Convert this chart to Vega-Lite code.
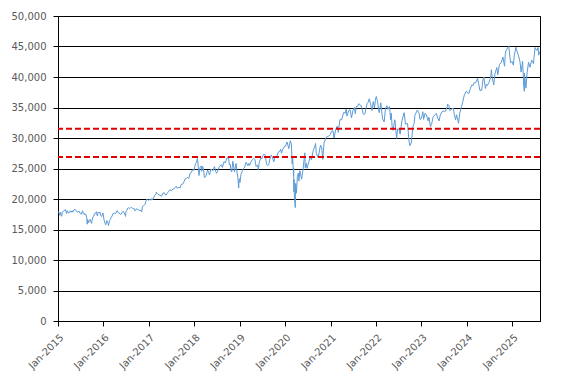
{
  "$schema": "https://vega.github.io/schema/vega-lite/v6.json",
  "width": 482,
  "height": 305,
  "autosize": {"type": "none"},
  "padding": {"left": 58, "top": 16, "right": 28, "bottom": 64},
  "config": {
    "view": {"stroke": "#000000", "strokeWidth": 1},
    "axis": {
      "labelFont": "DejaVu Sans",
      "labelFontSize": 10,
      "labelColor": "#595959",
      "domainColor": "#000000",
      "tickColor": "#000000",
      "gridColor": "#000000",
      "gridOpacity": 1,
      "gridWidth": 1,
      "tickSize": 5,
      "title": null
    }
  },
  "datasets": {
    "djia": [
      {"d":"2015-01-02","v":17833},{"d":"2015-01-08","v":17907},{"d":"2015-01-15","v":17320},{"d":"2015-01-22","v":17814},{"d":"2015-01-30","v":17165},
      {"d":"2015-02-06","v":17824},{"d":"2015-02-13","v":18019},{"d":"2015-02-20","v":18140},{"d":"2015-02-27","v":18133},
      {"d":"2015-03-02","v":18288},{"d":"2015-03-11","v":17635},{"d":"2015-03-18","v":18076},{"d":"2015-03-26","v":17678},
      {"d":"2015-04-02","v":17763},{"d":"2015-04-10","v":18057},{"d":"2015-04-17","v":17826},{"d":"2015-04-24","v":18080},{"d":"2015-04-30","v":17841},
      {"d":"2015-05-08","v":18191},{"d":"2015-05-19","v":18312},{"d":"2015-05-29","v":18011},
      {"d":"2015-06-05","v":17849},{"d":"2015-06-12","v":17899},{"d":"2015-06-19","v":18015},{"d":"2015-06-29","v":17597},
      {"d":"2015-07-08","v":17515},{"d":"2015-07-17","v":18086},{"d":"2015-07-24","v":17568},{"d":"2015-07-31","v":17690},
      {"d":"2015-08-07","v":17373},{"d":"2015-08-14","v":17477},{"d":"2015-08-20","v":16990},{"d":"2015-08-24","v":15871},{"d":"2015-08-28","v":16643},
      {"d":"2015-09-04","v":16102},{"d":"2015-09-11","v":16433},{"d":"2015-09-17","v":16674},{"d":"2015-09-28","v":16001},
      {"d":"2015-10-02","v":16472},{"d":"2015-10-09","v":17084},{"d":"2015-10-16","v":17215},{"d":"2015-10-23","v":17646},{"d":"2015-10-30","v":17663},
      {"d":"2015-11-06","v":17910},{"d":"2015-11-13","v":17245},{"d":"2015-11-20","v":17823},{"d":"2015-11-30","v":17720},
      {"d":"2015-12-04","v":17848},{"d":"2015-12-11","v":17265},{"d":"2015-12-18","v":17128},{"d":"2015-12-29","v":17720},{"d":"2015-12-31","v":17425},
      {"d":"2016-01-07","v":16514},{"d":"2016-01-15","v":15988},{"d":"2016-01-20","v":15766},{"d":"2016-01-29","v":16466},
      {"d":"2016-02-05","v":16205},{"d":"2016-02-11","v":15660},{"d":"2016-02-19","v":16392},{"d":"2016-02-26","v":16640},
      {"d":"2016-03-04","v":17006},{"d":"2016-03-11","v":17213},{"d":"2016-03-18","v":17602},{"d":"2016-03-31","v":17685},
      {"d":"2016-04-08","v":17577},{"d":"2016-04-20","v":18096},{"d":"2016-04-29","v":17773},
      {"d":"2016-05-06","v":17740},{"d":"2016-05-13","v":17535},{"d":"2016-05-19","v":17436},{"d":"2016-05-31","v":17787},
      {"d":"2016-06-08","v":17985},{"d":"2016-06-16","v":17733},{"d":"2016-06-24","v":17400},{"d":"2016-06-27","v":17140},
      {"d":"2016-07-01","v":17949},{"d":"2016-07-08","v":18147},{"d":"2016-07-15","v":18516},{"d":"2016-07-22","v":18570},{"d":"2016-07-29","v":18432},
      {"d":"2016-08-05","v":18543},{"d":"2016-08-15","v":18636},{"d":"2016-08-26","v":18395},
      {"d":"2016-09-02","v":18492},{"d":"2016-09-09","v":18085},{"d":"2016-09-16","v":18124},{"d":"2016-09-22","v":18392},{"d":"2016-09-30","v":18308},
      {"d":"2016-10-07","v":18240},{"d":"2016-10-14","v":18138},{"d":"2016-10-21","v":18145},{"d":"2016-10-31","v":18142},
      {"d":"2016-11-04","v":17888},{"d":"2016-11-10","v":18807},{"d":"2016-11-18","v":18868},{"d":"2016-11-30","v":19124},
      {"d":"2016-12-07","v":19549},{"d":"2016-12-13","v":19911},{"d":"2016-12-20","v":19974},{"d":"2016-12-30","v":19763},
      {"d":"2017-01-06","v":19964},{"d":"2017-01-13","v":19886},{"d":"2017-01-20","v":19827},{"d":"2017-01-25","v":20068},{"d":"2017-01-31","v":19864},
      {"d":"2017-02-10","v":20269},{"d":"2017-02-17","v":20624},{"d":"2017-02-28","v":20812},
      {"d":"2017-03-01","v":21115},{"d":"2017-03-10","v":20903},{"d":"2017-03-21","v":20669},{"d":"2017-03-31","v":20663},
      {"d":"2017-04-13","v":20453},{"d":"2017-04-25","v":20997},{"d":"2017-05-05","v":21007},{"d":"2017-05-17","v":20606},{"d":"2017-05-31","v":21009},
      {"d":"2017-06-09","v":21272},{"d":"2017-06-19","v":21528},{"d":"2017-06-30","v":21350},
      {"d":"2017-07-14","v":21638},{"d":"2017-07-26","v":21711},{"d":"2017-07-31","v":21891},
      {"d":"2017-08-08","v":22085},{"d":"2017-08-17","v":21751},{"d":"2017-08-31","v":21948},
      {"d":"2017-09-08","v":21798},{"d":"2017-09-20","v":22412},{"d":"2017-09-29","v":22405},
      {"d":"2017-10-10","v":22831},{"d":"2017-10-20","v":23329},{"d":"2017-10-31","v":23377},
      {"d":"2017-11-08","v":23563},{"d":"2017-11-17","v":23358},{"d":"2017-11-30","v":24272},
      {"d":"2017-12-08","v":24329},{"d":"2017-12-18","v":24792},{"d":"2017-12-29","v":24719},
      {"d":"2018-01-05","v":25295},{"d":"2018-01-12","v":25803},{"d":"2018-01-19","v":26071},{"d":"2018-01-26","v":26617},{"d":"2018-01-30","v":26076},
      {"d":"2018-02-05","v":24346},{"d":"2018-02-08","v":23860},{"d":"2018-02-16","v":25219},{"d":"2018-02-27","v":25410},
      {"d":"2018-03-02","v":24538},{"d":"2018-03-09","v":25335},{"d":"2018-03-16","v":24946},{"d":"2018-03-23","v":23533},
      {"d":"2018-04-02","v":23644},{"d":"2018-04-13","v":24360},{"d":"2018-04-18","v":24748},{"d":"2018-04-27","v":24311},
      {"d":"2018-05-03","v":23930},{"d":"2018-05-14","v":24899},{"d":"2018-05-25","v":24753},
      {"d":"2018-06-01","v":24635},{"d":"2018-06-12","v":25320},{"d":"2018-06-22","v":24580},{"d":"2018-06-28","v":24216},
      {"d":"2018-07-06","v":24456},{"d":"2018-07-17","v":25119},{"d":"2018-07-27","v":25451},
      {"d":"2018-08-07","v":25628},{"d":"2018-08-15","v":25162},{"d":"2018-08-29","v":26124},
      {"d":"2018-09-07","v":25916},{"d":"2018-09-21","v":26743},{"d":"2018-10-03","v":26828},
      {"d":"2018-10-10","v":25599},{"d":"2018-10-17","v":25706},{"d":"2018-10-24","v":24583},{"d":"2018-10-29","v":24443},
      {"d":"2018-11-07","v":26180},{"d":"2018-11-20","v":24465},{"d":"2018-11-30","v":25538},
      {"d":"2018-12-03","v":25826},{"d":"2018-12-10","v":24423},{"d":"2018-12-17","v":23592},{"d":"2018-12-24","v":21792},{"d":"2018-12-26","v":22878},{"d":"2018-12-31","v":23327},
      {"d":"2019-01-03","v":22686},{"d":"2019-01-11","v":23996},{"d":"2019-01-25","v":24737},{"d":"2019-01-31","v":24999},
      {"d":"2019-02-08","v":25106},{"d":"2019-02-22","v":26031},
      {"d":"2019-03-08","v":25450},{"d":"2019-03-15","v":25849},{"d":"2019-03-22","v":25502},{"d":"2019-03-29","v":25929},
      {"d":"2019-04-12","v":26412},{"d":"2019-04-23","v":26656},
      {"d":"2019-05-03","v":26505},{"d":"2019-05-13","v":25324},{"d":"2019-05-24","v":25586},{"d":"2019-05-31","v":24815},
      {"d":"2019-06-07","v":25984},{"d":"2019-06-20","v":26753},{"d":"2019-06-28","v":26600},
      {"d":"2019-07-03","v":26966},{"d":"2019-07-15","v":27359},{"d":"2019-07-26","v":27192},
      {"d":"2019-08-05","v":25718},{"d":"2019-08-14","v":25479},{"d":"2019-08-23","v":25629},{"d":"2019-08-30","v":26403},
      {"d":"2019-09-12","v":27182},{"d":"2019-09-20","v":26935},{"d":"2019-10-02","v":26079},{"d":"2019-10-11","v":26817},{"d":"2019-10-25","v":26958},
      {"d":"2019-11-08","v":27681},{"d":"2019-11-22","v":27876},{"d":"2019-11-27","v":28164},
      {"d":"2019-12-03","v":27503},{"d":"2019-12-13","v":28135},{"d":"2019-12-27","v":28645},{"d":"2019-12-31","v":28538},
      {"d":"2020-01-03","v":28634},{"d":"2020-01-17","v":29348},{"d":"2020-01-31","v":28256},
      {"d":"2020-02-12","v":29551},{"d":"2020-02-21","v":28992},{"d":"2020-02-27","v":25766},
      {"d":"2020-03-02","v":26703},{"d":"2020-03-09","v":23851},{"d":"2020-03-10","v":25018},{"d":"2020-03-12","v":21200},{"d":"2020-03-13","v":23185},
      {"d":"2020-03-16","v":20189},{"d":"2020-03-18","v":19899},{"d":"2020-03-23","v":18592},{"d":"2020-03-26","v":22552},
      {"d":"2020-04-01","v":20943},{"d":"2020-04-09","v":23719},{"d":"2020-04-17","v":24242},{"d":"2020-04-21","v":22941},{"d":"2020-04-29","v":24634},
      {"d":"2020-05-13","v":23248},{"d":"2020-05-22","v":24465},
      {"d":"2020-06-08","v":27572},{"d":"2020-06-11","v":25128},{"d":"2020-06-19","v":25871},{"d":"2020-06-26","v":25016},
      {"d":"2020-07-10","v":26075},{"d":"2020-07-22","v":27005},{"d":"2020-07-31","v":26428},
      {"d":"2020-08-14","v":27931},{"d":"2020-08-28","v":28654},
      {"d":"2020-09-02","v":29100},{"d":"2020-09-08","v":27500},{"d":"2020-09-23","v":26763},
      {"d":"2020-10-12","v":28837},{"d":"2020-10-22","v":28363},{"d":"2020-10-30","v":26502},
      {"d":"2020-11-09","v":29158},{"d":"2020-11-24","v":30046},
      {"d":"2020-12-04","v":30218},{"d":"2020-12-17","v":30303},{"d":"2020-12-31","v":30606},
      {"d":"2021-01-08","v":31098},{"d":"2021-01-21","v":31176},{"d":"2021-01-29","v":29983},
      {"d":"2021-02-12","v":31458},{"d":"2021-02-24","v":31962},
      {"d":"2021-03-04","v":30924},{"d":"2021-03-17","v":33015},{"d":"2021-03-31","v":32982},
      {"d":"2021-04-16","v":34200},{"d":"2021-04-29","v":34060},
      {"d":"2021-05-07","v":34778},{"d":"2021-05-12","v":33587},{"d":"2021-05-28","v":34529},
      {"d":"2021-06-07","v":34630},{"d":"2021-06-18","v":33290},{"d":"2021-06-30","v":34503},
      {"d":"2021-07-12","v":34996},{"d":"2021-07-19","v":33962},{"d":"2021-07-26","v":35144},
      {"d":"2021-08-06","v":35208},{"d":"2021-08-16","v":35625},{"d":"2021-08-31","v":35361},
      {"d":"2021-09-03","v":35369},{"d":"2021-09-20","v":33970},{"d":"2021-09-30","v":33844},
      {"d":"2021-10-04","v":34002},{"d":"2021-10-21","v":35603},{"d":"2021-10-29","v":35820},
      {"d":"2021-11-08","v":36432},{"d":"2021-11-26","v":34899},{"d":"2021-11-30","v":34484},
      {"d":"2021-12-10","v":35971},{"d":"2021-12-20","v":34932},{"d":"2021-12-29","v":36488},
      {"d":"2022-01-04","v":36800},{"d":"2022-01-14","v":35912},{"d":"2022-01-24","v":34365},{"d":"2022-01-27","v":34160},
      {"d":"2022-02-09","v":35768},{"d":"2022-02-23","v":33132},
      {"d":"2022-03-08","v":32632},{"d":"2022-03-18","v":34754},{"d":"2022-03-29","v":35294},
      {"d":"2022-04-08","v":34721},{"d":"2022-04-20","v":35160},{"d":"2022-04-29","v":32977},
      {"d":"2022-05-04","v":34061},{"d":"2022-05-11","v":31834},{"d":"2022-05-19","v":31253},{"d":"2022-05-31","v":32990},
      {"d":"2022-06-03","v":32900},{"d":"2022-06-16","v":29927},{"d":"2022-06-24","v":31500},
      {"d":"2022-07-07","v":31385},{"d":"2022-07-14","v":30630},{"d":"2022-07-29","v":32845},
      {"d":"2022-08-16","v":34152},{"d":"2022-08-26","v":32283},
      {"d":"2022-09-12","v":32381},{"d":"2022-09-23","v":29590},{"d":"2022-09-30","v":28726},
      {"d":"2022-10-12","v":29210},{"d":"2022-10-25","v":31837},
      {"d":"2022-11-04","v":32403},{"d":"2022-11-10","v":33715},{"d":"2022-11-30","v":34590},
      {"d":"2022-12-13","v":34108},{"d":"2022-12-22","v":33027},{"d":"2022-12-30","v":33147},
      {"d":"2023-01-06","v":33631},{"d":"2023-01-13","v":34303},{"d":"2023-01-19","v":33045},{"d":"2023-01-31","v":34086},
      {"d":"2023-02-10","v":33869},{"d":"2023-02-24","v":32817},
      {"d":"2023-03-03","v":33391},{"d":"2023-03-15","v":31875},{"d":"2023-03-24","v":32237},
      {"d":"2023-04-06","v":33485},{"d":"2023-04-21","v":33809},
      {"d":"2023-05-01","v":34051},{"d":"2023-05-12","v":33301},{"d":"2023-05-24","v":32800},
      {"d":"2023-06-02","v":33762},{"d":"2023-06-16","v":34299},{"d":"2023-06-30","v":34408},
      {"d":"2023-07-13","v":34395},{"d":"2023-07-27","v":35061},{"d":"2023-07-31","v":35560},
      {"d":"2023-08-11","v":35281},{"d":"2023-08-18","v":34500},{"d":"2023-08-31","v":34722},
      {"d":"2023-09-14","v":34907},{"d":"2023-09-22","v":33964},
      {"d":"2023-10-03","v":33002},{"d":"2023-10-11","v":33804},{"d":"2023-10-27","v":32418},
      {"d":"2023-11-06","v":34096},{"d":"2023-11-20","v":35151},{"d":"2023-11-30","v":35951},
      {"d":"2023-12-13","v":37090},{"d":"2023-12-29","v":37690},
      {"d":"2024-01-05","v":37466},{"d":"2024-01-17","v":37267},{"d":"2024-01-31","v":38150},
      {"d":"2024-02-09","v":38671},{"d":"2024-02-21","v":38612},
      {"d":"2024-03-01","v":39087},{"d":"2024-03-13","v":39043},{"d":"2024-03-28","v":39807},
      {"d":"2024-04-05","v":38904},{"d":"2024-04-16","v":37798},{"d":"2024-04-30","v":37816},
      {"d":"2024-05-10","v":39513},{"d":"2024-05-17","v":40004},{"d":"2024-05-30","v":38112},
      {"d":"2024-06-07","v":38799},{"d":"2024-06-14","v":38589},{"d":"2024-06-28","v":39119},
      {"d":"2024-07-12","v":40000},{"d":"2024-07-17","v":41198},{"d":"2024-07-24","v":39854},
      {"d":"2024-08-05","v":38703},{"d":"2024-08-15","v":40563},{"d":"2024-08-30","v":41563},
      {"d":"2024-09-06","v":40345},{"d":"2024-09-20","v":42063},
      {"d":"2024-10-04","v":42352},{"d":"2024-10-18","v":43276},{"d":"2024-10-31","v":41763},
      {"d":"2024-11-06","v":43729},{"d":"2024-11-11","v":44293},{"d":"2024-11-29","v":44910},
      {"d":"2024-12-04","v":45014},{"d":"2024-12-18","v":42326},{"d":"2024-12-31","v":42544},
      {"d":"2025-01-10","v":41938},{"d":"2025-01-17","v":43488},{"d":"2025-01-30","v":44882},
      {"d":"2025-02-07","v":44303},{"d":"2025-02-21","v":43428},
      {"d":"2025-03-04","v":42520},{"d":"2025-03-13","v":40814},{"d":"2025-03-25","v":42587},
      {"d":"2025-04-04","v":38315},{"d":"2025-04-08","v":37645},{"d":"2025-04-09","v":40608},{"d":"2025-04-21","v":38170},{"d":"2025-04-30","v":40669},
      {"d":"2025-05-12","v":42410},{"d":"2025-05-23","v":41603},
      {"d":"2025-06-06","v":42762},{"d":"2025-06-20","v":42206},{"d":"2025-06-30","v":44095},
      {"d":"2025-07-03","v":44828},{"d":"2025-07-18","v":44342},{"d":"2025-07-28","v":44837},
      {"d":"2025-08-01","v":43589},{"d":"2025-08-11","v":44175}
    ],
    "levels": [{"level": 31500}, {"level": 26900}]
  },
  "layer": [
    {
      "data": {"name": "djia"},
      "mark": {"type": "line", "color": "#5B9BD5", "strokeWidth": 1, "clip": true},
      "encoding": {
        "x": {
          "field": "d",
          "type": "temporal",
          "scale": {
            "domain": ["2015-01-01", "2025-08-12"]
          },
          "axis": {
            "format": "%b-%Y",
            "tickCount": {"interval": "year", "step": 1},
            "labelAngle": -45,
            "labelAlign": "right",
            "labelBaseline": "top",
            "labelPadding": 6,
            "grid": false,
            "labelOverlap": false
          }
        },
        "y": {
          "field": "v",
          "type": "quantitative",
          "scale": {"domain": [0, 50000], "nice": false, "zero": true},
          "axis": {
            "values": [0, 5000, 10000, 15000, 20000, 25000, 30000, 35000, 40000, 45000, 50000],
            "format": ",.0f",
            "grid": true,
            "labelPadding": 7
          }
        }
      }
    },
    {
      "data": {"name": "levels"},
      "mark": {"type": "rule", "color": "#E00000", "strokeWidth": 2, "strokeDash": [6, 3]},
      "encoding": {
        "y": {
          "field": "level",
          "type": "quantitative",
          "scale": {"domain": [0, 50000], "nice": false, "zero": true},
          "axis": {
            "values": [0, 5000, 10000, 15000, 20000, 25000, 30000, 35000, 40000, 45000, 50000],
            "format": ",.0f",
            "grid": true,
            "labelPadding": 7
          }
        }
      }
    }
  ]
}
